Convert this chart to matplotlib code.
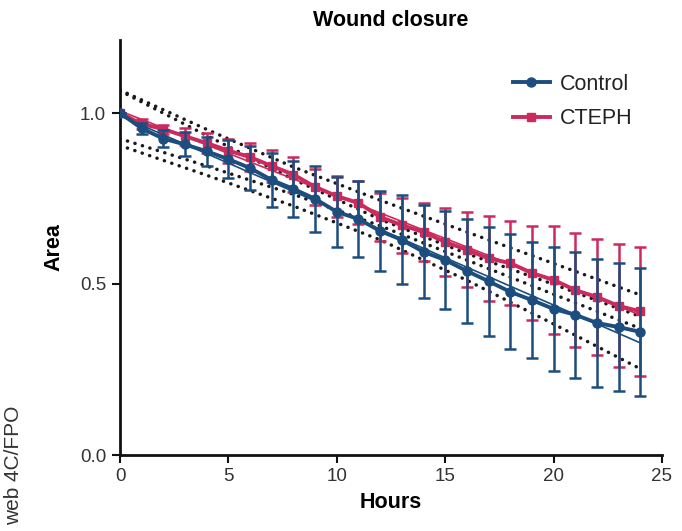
import numpy as np
import matplotlib
matplotlib.use("Agg")
import matplotlib.pyplot as plt
from matplotlib.lines import Line2D

plt.rcParams['font.family'] = ['Liberation Sans', 'DejaVu Sans']

hours = list(range(0, 25))

control_mean = [1.0, 0.955, 0.925, 0.908, 0.888, 0.865, 0.839, 0.804, 0.778, 0.749, 0.711,
                0.69, 0.655, 0.629, 0.594, 0.57, 0.538, 0.508, 0.477, 0.453, 0.427,
                0.41, 0.386, 0.374, 0.36]
control_sd = [0.0, 0.015, 0.025, 0.035, 0.043, 0.055, 0.065, 0.078, 0.083, 0.097, 0.103,
              0.11, 0.118, 0.13, 0.136, 0.143, 0.152, 0.16, 0.168, 0.17, 0.18,
              0.185, 0.187, 0.186, 0.188]

cteph_mean = [1.0, 0.968, 0.953, 0.932, 0.912, 0.89, 0.871, 0.845, 0.82, 0.784, 0.757,
              0.737, 0.696, 0.672, 0.652, 0.623, 0.6, 0.575, 0.561, 0.532, 0.512,
              0.482, 0.462, 0.436, 0.42]
cteph_sd = [0.0, 0.015, 0.013, 0.025, 0.03, 0.035, 0.04, 0.048, 0.05, 0.053, 0.06,
            0.063, 0.07, 0.08, 0.085, 0.1, 0.11, 0.125, 0.122, 0.138, 0.157,
            0.167, 0.17, 0.18, 0.188]

# dotted confidence bands
band_hours = [0, 4, 8, 12, 16, 20, 24]
control_upper = [1.065, 0.934, 0.806, 0.689, 0.589, 0.499, 0.405]
control_lower = [0.905, 0.818, 0.728, 0.629, 0.511, 0.383, 0.252]
cteph_upper = [1.067, 0.952, 0.842, 0.745, 0.652, 0.56, 0.468]
cteph_lower = [0.925, 0.845, 0.762, 0.67, 0.57, 0.47, 0.37]

title = "Wound closure"
xlabel = "Hours"
ylabel = "Area"
xticks = [0, 5, 10, 15, 20, 25]
yticks = [0.0, 0.5, 1.0]

BLUE = '#1b4e7e'
RED = '#cc2a5c'

W, H = 682, 531
fig = plt.figure(figsize=(W / 100, H / 100), dpi=100)
ax = fig.add_axes([120 / W, 1 - 455 / H, 542 / W, 415 / H])
ax.set_xlim(0, 25)
ax.set_ylim(0, 415 / 342)

x = np.array(hours)

# dotted bands
for ys in (cteph_upper, cteph_lower, control_upper, control_lower):
    ax.plot(band_hours, ys, color='#1a1a1a', lw=2.5, linestyle=(0, (0.05, 2.2)),
            dash_capstyle='round', zorder=2)

# CTEPH
ax.errorbar(x, cteph_mean, yerr=cteph_sd, color=RED, lw=2.8, marker='s', ms=5.5,
            elinewidth=1.8, capsize=4.5, capthick=1.8, zorder=3)
p = np.polyfit(x, cteph_mean, 1)
ax.plot(x, np.polyval(p, x), color=RED, lw=1.2, zorder=3)

# Control
ax.errorbar(x, control_mean, yerr=control_sd, color=BLUE, lw=2.8, marker='o', ms=6.5,
            elinewidth=1.8, capsize=4.5, capthick=1.8, zorder=4)
p = np.polyfit(x, control_mean, 1)
ax.plot(x, np.polyval(p, x), color=BLUE, lw=1.2, zorder=4)

for s in ('top', 'right'):
    ax.spines[s].set_visible(False)
for s in ('left', 'bottom'):
    ax.spines[s].set_linewidth(2.0)
    ax.spines[s].set_color('#111111')

ax.set_xticks(xticks)
ax.set_yticks(yticks)
ax.set_yticklabels([f"{v:.1f}" for v in yticks])
ax.tick_params(axis='both', direction='out', length=6, width=1.5, labelsize=13.5,
               colors='#111111', labelcolor='#333333')
ax.tick_params(axis='y', pad=4)

ax.set_xlabel(xlabel, fontsize=15.5, fontweight='bold', labelpad=5)
ax.set_ylabel(ylabel, fontsize=15.5, fontweight='bold', labelpad=11)
fig.text(391 / W, 1 - 20 / H, title, fontsize=15.5, fontweight='bold',
         ha='center', va='center')

handles = [Line2D([], [], color=BLUE, lw=2.8, marker='o', ms=6.5),
           Line2D([], [], color=RED, lw=2.8, marker='s', ms=5.5)]
ax.legend(handles, ['Control', 'CTEPH'], loc='upper left',
          bbox_to_anchor=((513 - 120) / 542, (455 - 74) / 415), frameon=False,
          fontsize=15.5, handlelength=1.7, handletextpad=0.5, borderpad=0,
          borderaxespad=0, labelspacing=0.62, labelcolor='#222222')

fig.text(14 / W, 1 - 465 / H, "web 4C/FPO", rotation=90, fontsize=15,
         ha='center', va='center', color='#333333')

fig.savefig('out.png', dpi=100)
